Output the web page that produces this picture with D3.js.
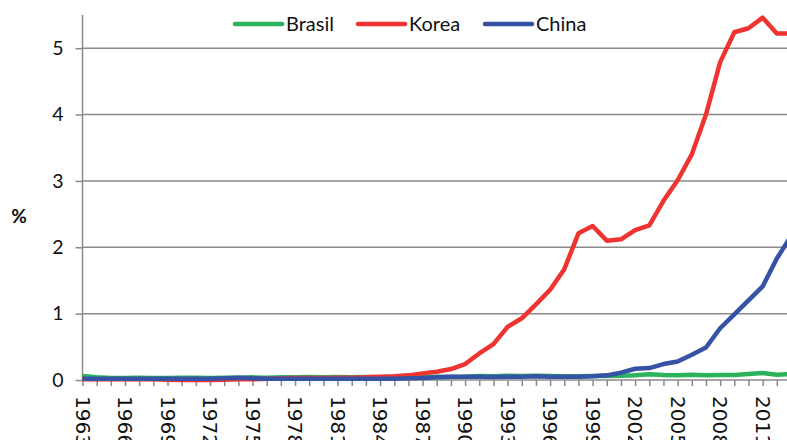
<!DOCTYPE html>
<html>
<head>
<meta charset="utf-8">
<script src="https://cdn.jsdelivr.net/npm/d3@7"></script>
<style>
  html, body { margin: 0; padding: 0; background: #fff; }
  svg { display: block; }
</style>
</head>
<body>
<svg id="chart" width="787" height="440"></svg>
<script>
const years = d3.range(1963, 2014);
const brasil = [0.06,0.04,0.03,0.03,0.035,0.03,0.03,0.035,0.035,0.03,0.035,0.035,0.04,0.035,0.04,0.04,0.045,0.04,0.045,0.04,0.045,0.04,0.04,0.04,0.045,0.05,0.045,0.05,0.06,0.055,0.065,0.06,0.065,0.06,0.055,0.055,0.06,0.06,0.065,0.07,0.085,0.075,0.07,0.08,0.07,0.075,0.075,0.09,0.105,0.08,0.09];
const korea = [0.01,0.01,0.01,0.01,0.01,0.01,0.005,0.0,0.0,0.0,0.005,0.01,0.01,0.02,0.025,0.03,0.03,0.03,0.035,0.035,0.04,0.05,0.055,0.07,0.1,0.125,0.165,0.24,0.4,0.54,0.8,0.93,1.14,1.36,1.67,2.21,2.32,2.10,2.12,2.26,2.33,2.7,3.01,3.40,4.0,4.79,5.24,5.30,5.46,5.22,5.22];
const china = [0.02,0.02,0.02,0.02,0.02,0.02,0.02,0.02,0.02,0.02,0.025,0.035,0.025,0.02,0.02,0.02,0.02,0.02,0.02,0.02,0.02,0.02,0.02,0.025,0.03,0.04,0.05,0.05,0.05,0.045,0.05,0.05,0.055,0.05,0.05,0.05,0.055,0.07,0.11,0.17,0.18,0.24,0.28,0.38,0.49,0.78,0.99,1.2,1.41,1.83,2.17];
const seriesNames = ["Brasil", "Korea", "China"];
const seriesColors = ["#2bb35b", "#ef3330", "#3652a5"];
const yTicks = [0, 1, 2, 3, 4, 5];
const xLabelYears = d3.range(1963, 2014, 3);

const series = [brasil, korea, china];
const svg = d3.select("#chart");

const x = d3.scaleLinear().domain([1963, 2013]).range([82.5, 82.5 + 50 * 14.17]);
const y = d3.scaleLinear().domain([0, 5.5]).range([380, 15]);
const gridColor = "#8a8a8a";

// gridlines
svg.append("g").selectAll("line").data(yTicks.filter(d => d > 0)).join("line")
  .attr("x1", 82.5).attr("x2", 787)
  .attr("y1", d => y(d)).attr("y2", d => y(d))
  .attr("stroke", gridColor).attr("stroke-width", 1.5);

// y axis
const yAxis = svg.append("g").attr("transform", "translate(82.5,0)")
  .call(d3.axisLeft(y).tickValues(yTicks).tickSize(7).tickPadding(12).tickFormat(d3.format("d")));
yAxis.select(".domain").attr("stroke", gridColor).attr("stroke-width", 1.5).attr("d", "M0,15V380");
yAxis.selectAll(".tick line").attr("stroke", gridColor).attr("stroke-width", 1.5);
yAxis.selectAll(".tick text").attr("font-family", "Lato, 'Open Sans', sans-serif").attr("font-size", 19.5).attr("fill", "#111");

// x axis minor ticks
const xMinor = svg.append("g").attr("transform", "translate(0,380)")
  .call(d3.axisBottom(x).tickValues(years).tickSize(6).tickFormat(""));
xMinor.select(".domain").attr("stroke", gridColor).attr("stroke-width", 1.5).attr("d", "M82.5,0H787");
xMinor.selectAll(".tick line").attr("stroke", gridColor).attr("stroke-width", 1.5);

// x labels
const xLab = svg.append("g").attr("transform", "translate(0,380)")
  .call(d3.axisBottom(x).tickValues(xLabelYears).tickSize(0).tickFormat(d3.format("d")));
xLab.select(".domain").remove();
xLab.selectAll(".tick text")
  .attr("transform", "rotate(90)")
  .attr("text-anchor", "start")
  .attr("x", 16).attr("y", 0).attr("dy", "0.36em")
  .attr("font-family", "'DejaVu Sans', sans-serif").attr("font-size", 20).attr("fill", "#111");

// lines
const line = d3.line().x((d, i) => x(years[i])).y(d => y(d));
series.forEach((s, k) => {
  svg.append("path").datum(s)
    .attr("d", line)
    .attr("fill", "none")
    .attr("stroke", seriesColors[k])
    .attr("stroke-width", 4.5)
    .attr("stroke-linejoin", "round");
});

// % label
svg.append("text").attr("x", 19).attr("y", 216).attr("dy", "0.35em")
  .attr("text-anchor", "middle")
  .attr("font-family", "Lato, 'Open Sans', sans-serif").attr("font-weight", "bold")
  .attr("font-size", 19).attr("fill", "#111").text("%");

// legend
const legendX = [235, 358, 485];
const lg = svg.append("g");
seriesNames.forEach((n, k) => {
  lg.append("line").attr("x1", legendX[k]).attr("x2", legendX[k] + 47)
    .attr("y1", 24).attr("y2", 24)
    .attr("stroke", seriesColors[k]).attr("stroke-width", 4.5).attr("stroke-linecap", "round");
  lg.append("text").attr("x", legendX[k] + 51).attr("y", 24).attr("dy", "0.36em")
    .attr("font-family", "Lato, 'Open Sans', sans-serif").attr("font-size", 20).attr("fill", "#111")
    .text(n);
});
</script>
</body>
</html>
